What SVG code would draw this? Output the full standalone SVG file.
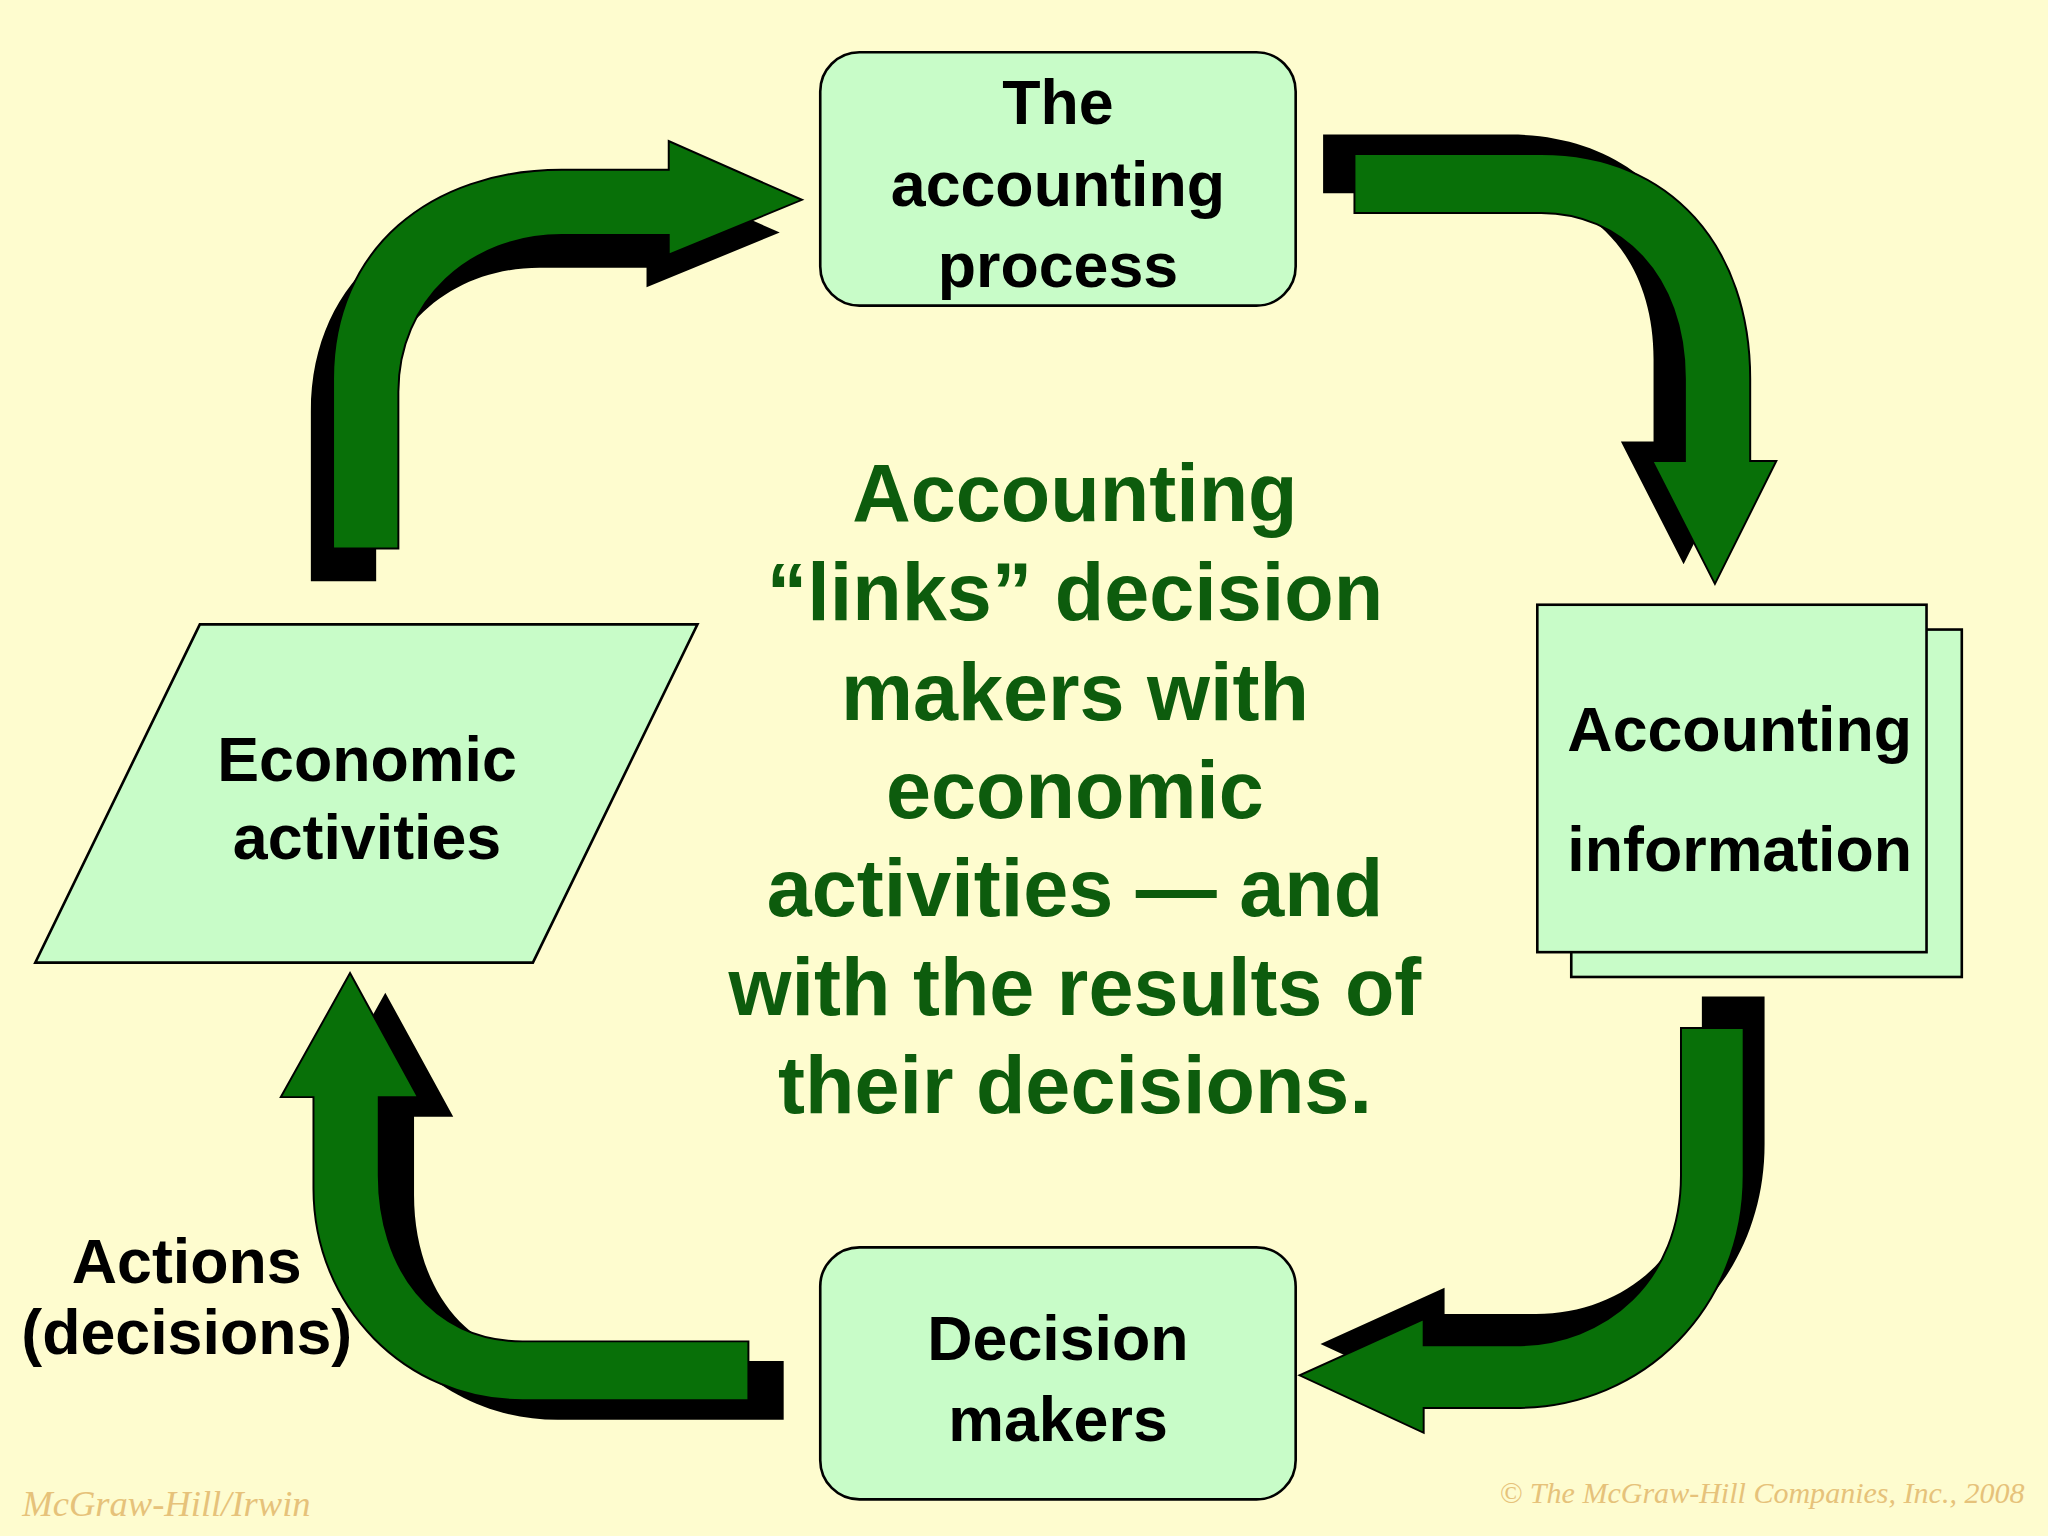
<svg xmlns="http://www.w3.org/2000/svg" width="2048" height="1536" viewBox="0 0 2048 1536">
<style>
.node{fill:#c8fcc8;stroke:#000;stroke-width:2}
.lbl{font-family:"Liberation Sans",Arial,sans-serif;font-weight:bold;font-size:48px;fill:#000;text-anchor:middle}
.ctr{font-family:"Liberation Sans",Arial,sans-serif;font-weight:bold;font-size:62px;fill:#0d5c0d;text-anchor:middle}
.arr{fill:#087008;stroke:#000;stroke-width:1.5}
.sh{fill:#000}
.foot{font-family:"Liberation Serif","Times New Roman",serif;font-style:italic;fill:#e6c27a}
</style>
<rect width="2048" height="1536" fill="#fefccf"/>
<g transform="scale(1.30612)">
<g id="connectors">
<g id="arrow-top-left">
<path class="sh" transform="translate(-17,25)" d="M255,420 L255,290 C255,190 330,130 430,130 L512,130 L512,108 L614,153 L512,195 L512,180 L430,180 C360,180 305,230 305,300 L305,420 Z"/>
<path class="arr" d="M255,420 L255,290 C255,190 330,130 430,130 L512,130 L512,108 L614,153 L512,195 L512,180 L430,180 C360,180 305,230 305,300 L305,420 Z"/>
</g>
<g id="arrow-top-right">
<path class="sh" transform="translate(-24,-15)" d="M1037,118 L1180,118 C1280,118 1340,190 1340,290 L1340,353 L1360,353 L1313,447 L1265,353 L1290,353 L1290,290 C1290,210 1240,163 1180,163 L1037,163 Z"/>
<path class="arr" d="M1037,118 L1180,118 C1280,118 1340,190 1340,290 L1340,353 L1360,353 L1313,447 L1265,353 L1290,353 L1290,290 C1290,210 1240,163 1180,163 L1037,163 Z"/>
</g>
<g id="arrow-bottom-right">
<path class="sh" transform="translate(16,-24)" d="M1287,787 L1335,787 L1335,900 C1335,1000 1260,1078 1160,1078 L1090,1078 L1090,1097 L995,1053 L1090,1010 L1090,1030 L1160,1030 C1230,1030 1287,980 1287,900 Z"/>
<path class="arr" d="M1287,787 L1335,787 L1335,900 C1335,1000 1260,1078 1160,1078 L1090,1078 L1090,1097 L995,1053 L1090,1010 L1090,1030 L1160,1030 C1230,1030 1287,980 1287,900 Z"/>
</g>
<g id="arrow-bottom-left">
<path class="sh" transform="translate(27,15)" d="M573,1027 L400,1027 C330,1027 290,970 290,900 L290,840 L320,840 L268,745 L215,840 L240,840 L240,910 C240,1000 310,1072 400,1072 L573,1072 Z"/>
<path class="arr" d="M573,1027 L400,1027 C330,1027 290,970 290,900 L290,840 L320,840 L268,745 L215,840 L240,840 L240,910 C240,1000 310,1072 400,1072 L573,1072 Z"/>
</g>
</g>
<g id="accounting-process">
<rect class="node" x="628" y="40" width="364" height="194" rx="30"/>
<text class="lbl" x="810" y="95">The</text>
<text class="lbl" x="810" y="158">accounting</text>
<text class="lbl" x="810" y="220">process</text>
</g>
<g id="economic-activities">
<polygon class="node" points="153,478 534,478 408,737 27,737"/>
<text class="lbl" x="281" y="598">Economic</text>
<text class="lbl" x="281" y="658">activities</text>
</g>
<g id="accounting-information">
<rect class="node" x="1203" y="482" width="299" height="266"/>
<rect class="node" x="1177" y="463" width="298" height="266"/>
<text class="lbl" x="1332" y="575">Accounting</text>
<text class="lbl" x="1332" y="667">information</text>
</g>
<g id="decision-makers">
<rect class="node" x="628" y="955" width="364" height="193" rx="30"/>
<text class="lbl" x="810" y="1041">Decision</text>
<text class="lbl" x="810" y="1103">makers</text>
</g>
<g id="actions-label">
<text class="lbl" x="143" y="982" font-size="45">Actions</text>
<text class="lbl" x="143" y="1037" font-size="45">(decisions)</text>
</g>
<g id="center-text">
<text class="ctr" x="823" y="399">Accounting</text>
<text class="ctr" x="823" y="475">“links” decision</text>
<text class="ctr" x="823" y="551">makers with</text>
<text class="ctr" x="823" y="626">economic</text>
<text class="ctr" x="823" y="701">activities — and</text>
<text class="ctr" x="823" y="777">with the results of</text>
<text class="ctr" x="823" y="852">their decisions.</text>
</g>
<text class="foot" x="17" y="1161" font-size="28">McGraw-Hill/Irwin</text>
<text class="foot" x="1550" y="1151" font-size="23" text-anchor="end">© The McGraw-Hill Companies, Inc., 2008</text>
</g>
</svg>
